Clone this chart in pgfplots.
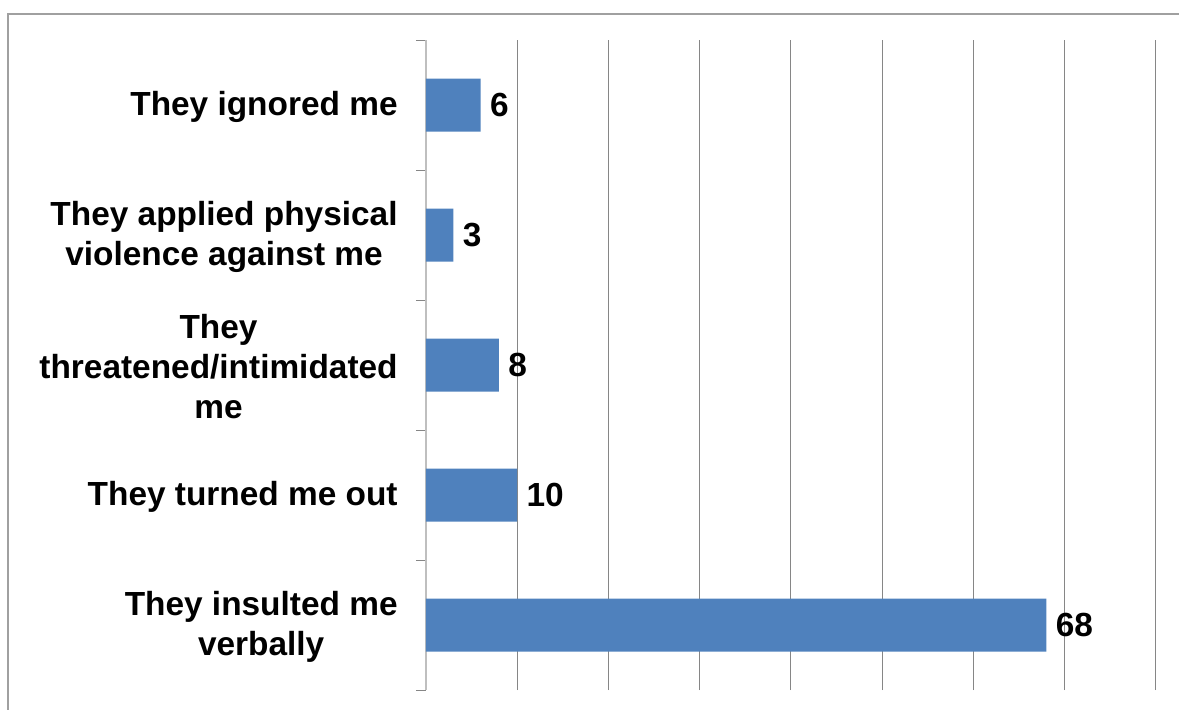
\documentclass[border=0pt]{standalone}
\usepackage{fontspec}
\setmainfont{Liberation Sans}
\usepackage{pgfplots}
\pgfplotsset{compat=1.18}
\definecolor{barblue}{HTML}{4F81BD}
\definecolor{gridgray}{HTML}{868686}
\definecolor{axisgray}{HTML}{BFBFBF}
\definecolor{framegray}{HTML}{A0A0A0}
\begin{document}
\begin{tikzpicture}
\path[use as bounding box] (0pt,0pt) rectangle (589.5pt,354.5pt);
\draw[framegray, line width=0.8pt] (4pt,-20pt) -- (4pt,347.5pt) -- (620pt,347.5pt);
\begin{axis}[
  at={(213pt,9.5pt)}, anchor=south west,
  scale only axis, width=365pt, height=325pt,
  xbar, bar width=26.5pt,
  xmin=0, xmax=80, ymin=-0.5, ymax=4.5,
  clip=false,
  axis lines*=left,
  x axis line style={draw=none},
  y axis line style={-, draw=axisgray, line width=1pt},
  xtick={10,20,...,80}, xticklabels={}, xtick style={draw=none},
  xmajorgrids, major grid style={draw=gridgray, line width=0.5pt},
  ytick={-0.5,0.5,1.5,2.5,3.5,4.5},
  y tick label as interval,
  yticklabels={{They insulted me\\verbally},{They turned me out},{They\\threatened/intimidated\\me},{They applied physical\\violence against me},{They ignored me}},
  ytick style={draw=gridgray, line width=0.5pt},
  major tick length=5pt, tick align=outside,
  yticklabel style={align=center, inner sep=0pt, xshift=-9pt, yshift=-1pt, font=\bfseries\fontsize{16.7}{20}\selectfont},
  /pgf/number format/assume math mode=true,
  nodes near coords,
  every node near coord/.append style={anchor=west, inner sep=0pt, xshift=4.5pt, font=\bfseries\fontsize{16.7}{20}\selectfont, black},
]
\addplot[fill=barblue, draw=none] coordinates {(68,0) (10,1) (8,2) (3,3) (6,4)};
\end{axis}
\end{tikzpicture}
\end{document}
